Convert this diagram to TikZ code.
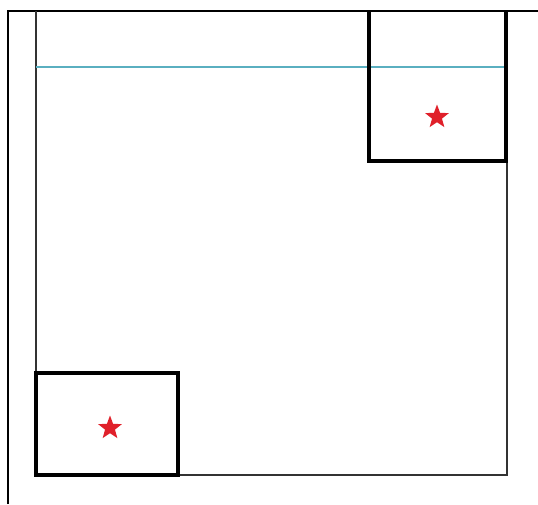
\documentclass[tikz,border=0pt]{standalone}
\usetikzlibrary{shapes.geometric}
\definecolor{starred}{HTML}{E0202A}
\definecolor{lineblue}{HTML}{5AAFC0}
\tikzset{
  thinline/.style={draw=black!80, line width=1.6pt},
  thickbox/.style={draw=black, line width=4.5pt, line join=miter},
  redstar/.style={star, star points=5, star point ratio=2.4, fill=starred, draw=none, minimum size=25pt, inner sep=0pt},
}
\begin{document}
\begin{tikzpicture}[x=1pt,y=-1pt]
\useasboundingbox (0,0) rectangle (538,504);
\fill[white] (0,0) rectangle (538,504);
% outer frame (left and top)
\draw[draw=black, line width=1.3pt] (8,504) -- (8,11) -- (538,11);
% thin square
\draw[thinline] (36,11) -- (36,475) -- (507,475) -- (507,11);
% cyan line
\draw[lineblue, line width=1.6pt] (36,67) -- (507,67);
% boxes
\draw[thickbox] (369,11) -- (369,161) -- (506,161) -- (506,11);
\draw[thickbox] (36,373) rectangle (178,475);
% stars
\node[redstar] (s1) at (437,117) {};
\node[redstar] (s2) at (110,428) {};
\end{tikzpicture}
\end{document}
